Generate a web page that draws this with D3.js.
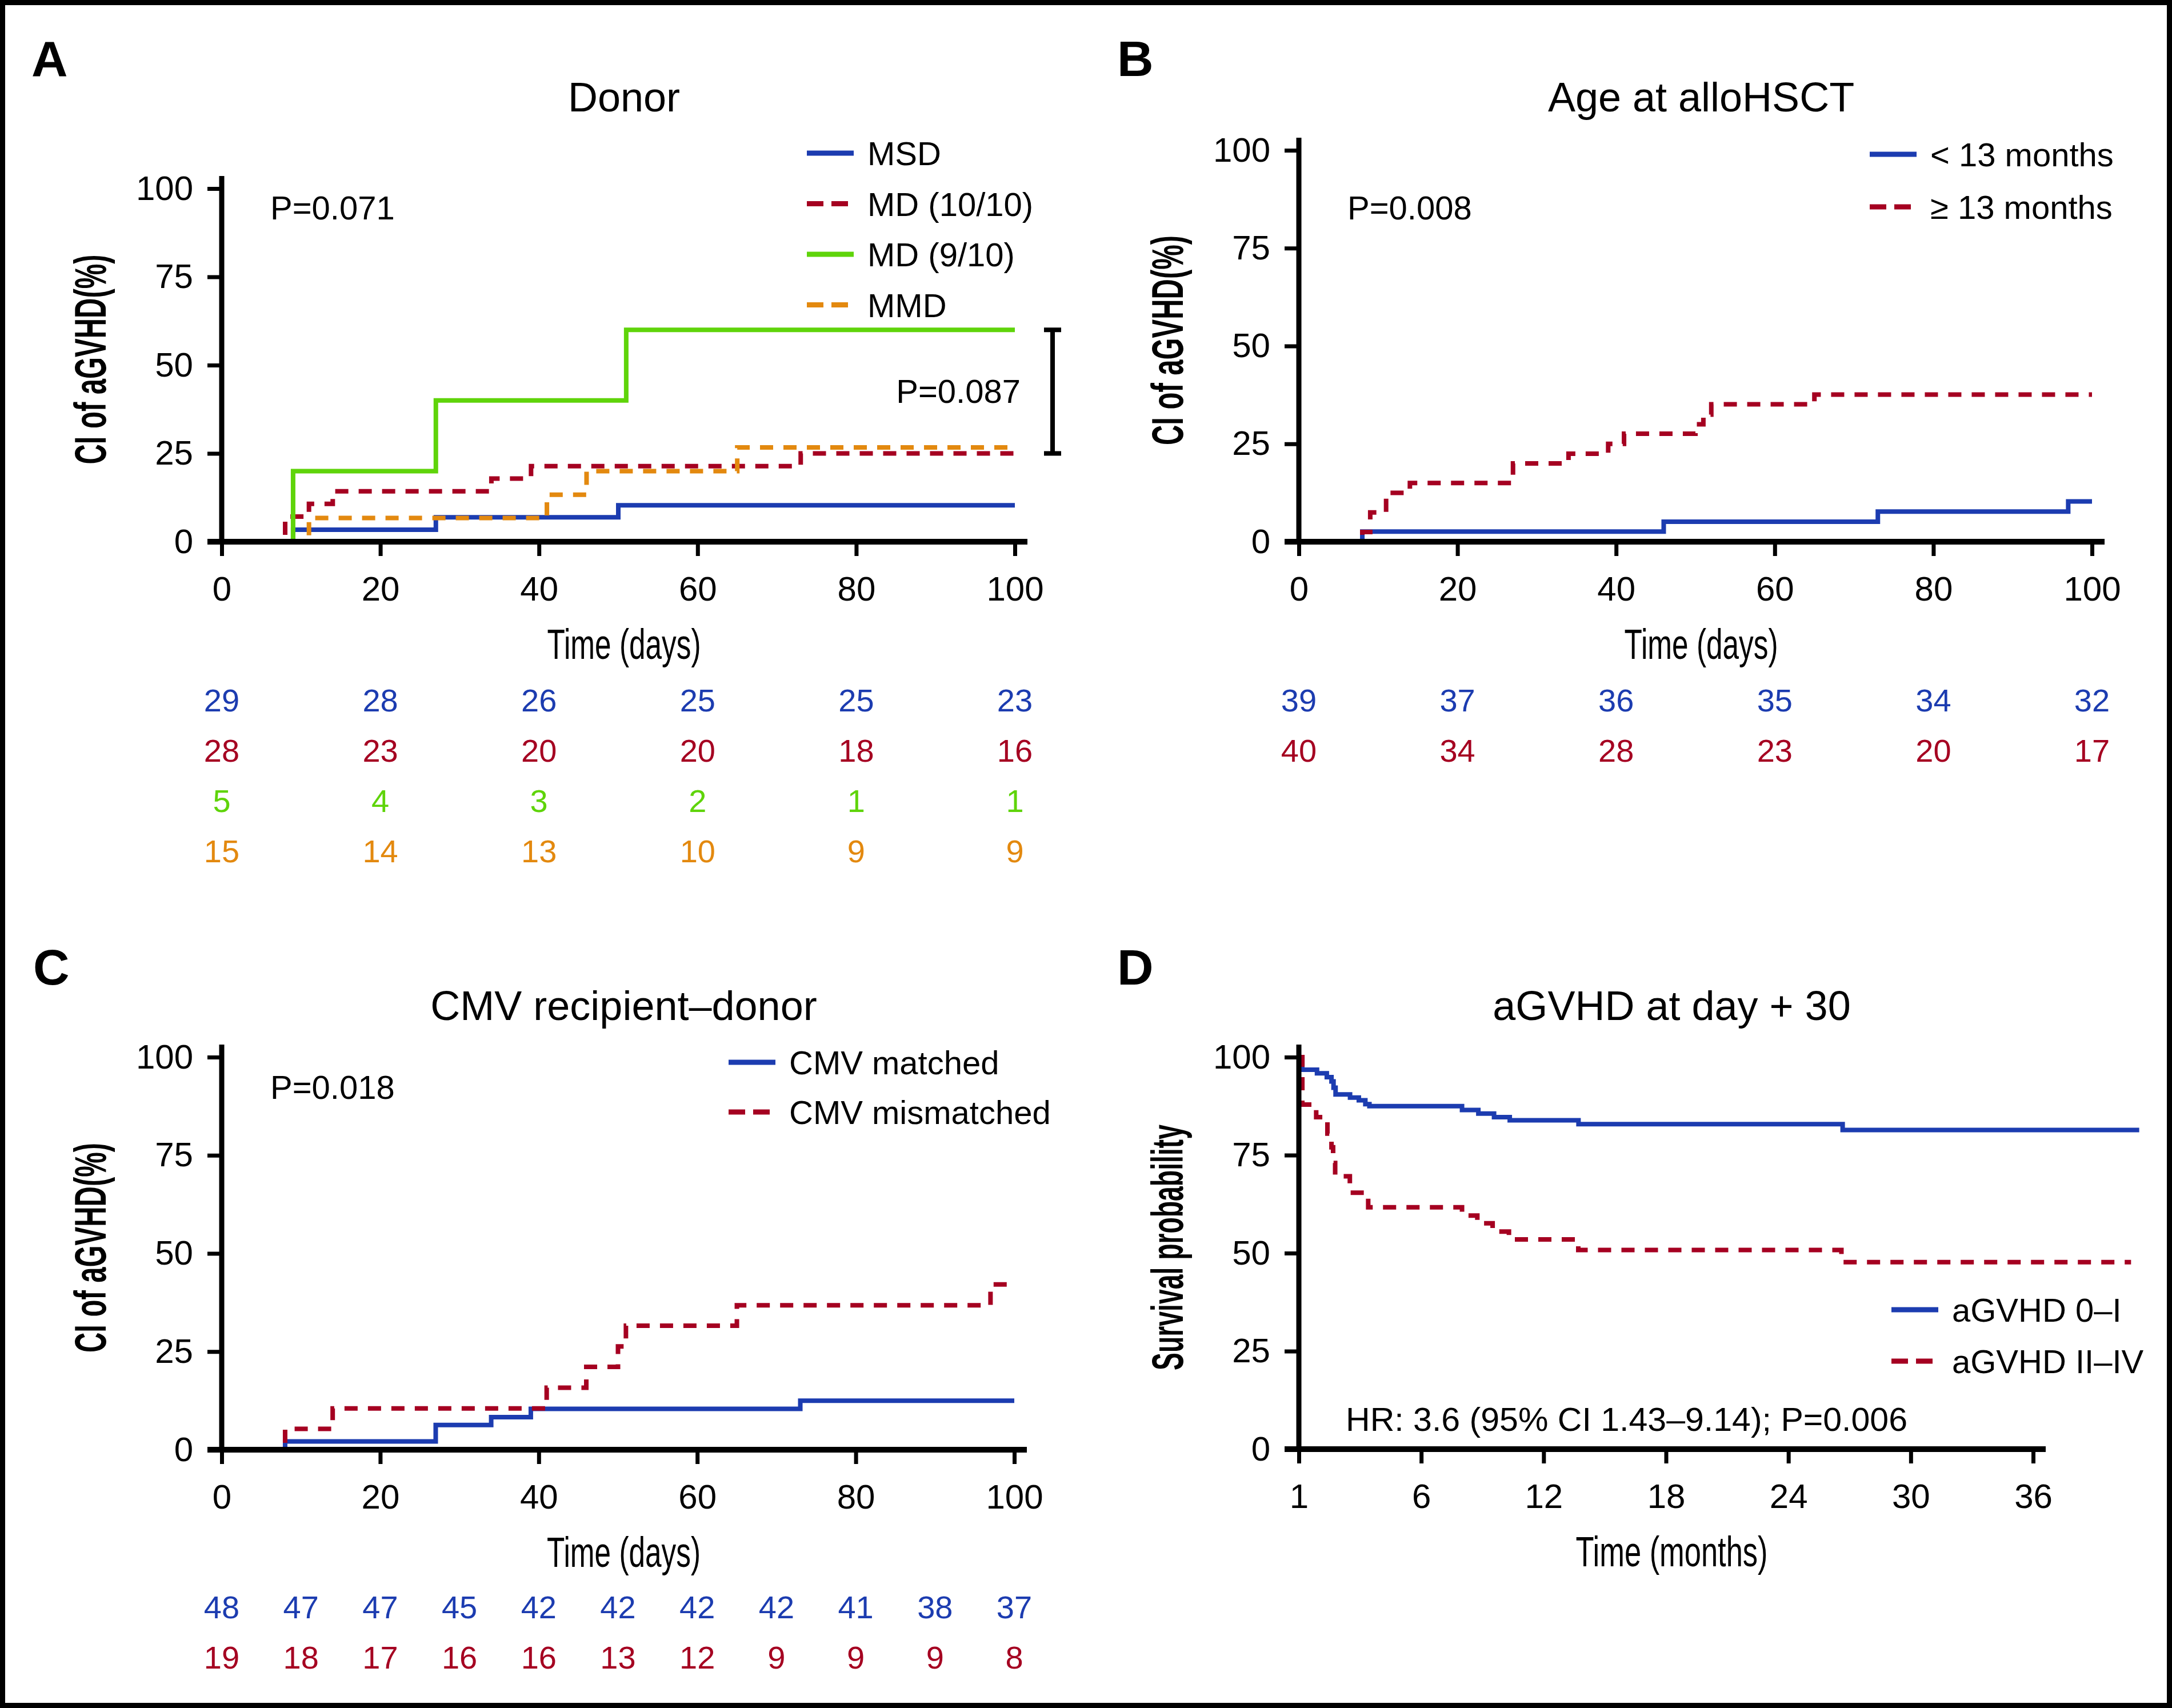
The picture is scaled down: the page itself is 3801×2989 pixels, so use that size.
<!DOCTYPE html>
<html><head><meta charset="utf-8">
<script src="https://cdn.jsdelivr.net/npm/d3@7"></script>
<style>body{margin:0;background:#fff}svg{display:block}</style>
</head><body>
<svg id="chart" width="3801" height="2989"></svg>
<script>
// ---------------- DATA ----------------
// Panel A: Donor (days, CI %)
const aTitle = "Donor";
const aLabels = ["MSD", "MD (10/10)", "MD (9/10)", "MMD"];
const aMSD_t = [0, 9, 27, 50, 100];
const aMSD_v = [0, 3.4, 6.9, 10.3, 10.3];
const aMD10_t = [0, 8, 11, 14, 34, 39, 73, 100];
const aMD10_v = [0, 7.1, 10.7, 14.3, 17.9, 21.4, 25.0, 25.0];
const aMD9_t = [0, 9, 27, 51, 100];
const aMD9_v = [0, 20, 40, 60, 60];
const aMMD_t = [0, 11, 41, 46, 65, 100];
const aMMD_v = [0, 6.7, 13.3, 20.0, 26.7, 26.7];
const aRiskMSD = [29, 28, 26, 25, 25, 23];
const aRiskMD10 = [28, 23, 20, 20, 18, 16];
const aRiskMD9 = [5, 4, 3, 2, 1, 1];
const aRiskMMD = [15, 14, 13, 10, 9, 9];
const aP = "P=0.071";
const aBracketP = "P=0.087";
const aBracket = [25, 60];

// Panel B: Age at alloHSCT
const bTitle = "Age at alloHSCT";
const bLabels = ["< 13 months", "\u2265 13 months"];
const bLow_t = [0, 8, 46, 73, 97, 100];
const bLow_v = [0, 2.6, 5.1, 7.7, 10.3, 10.3];
const bHigh_t = [0, 8, 9, 11, 14, 27, 34, 39, 41, 50, 51, 52, 65, 100];
const bHigh_v = [0, 2.5, 7.5, 12.5, 15.0, 20.0, 22.5, 25.0, 27.6, 30.0, 32.5, 35.1, 37.6, 37.6];
const bRiskLow = [39, 37, 36, 35, 34, 32];
const bRiskHigh = [40, 34, 28, 23, 20, 17];
const bP = "P=0.008";

// Panel C: CMV recipient-donor
const cTitle = "CMV recipient\u2013donor";
const cLabels = ["CMV matched", "CMV mismatched"];
const cMatch_t = [0, 8, 27, 34, 39, 73, 100];
const cMatch_v = [0, 2.1, 6.3, 8.3, 10.4, 12.5, 12.5];
const cMis_t = [0, 8, 14, 41, 46, 50, 51, 65, 97, 100];
const cMis_v = [0, 5.3, 10.5, 15.8, 21.1, 26.3, 31.6, 36.8, 42.1, 42.1];
const cRiskMatch = [48, 47, 47, 45, 42, 42, 42, 42, 41, 38, 37];
const cRiskMis = [19, 18, 17, 16, 16, 13, 12, 9, 9, 9, 8];
const cP = "P=0.018";

// Panel D: aGVHD at day +30 (months, survival %)
const dTitle = "aGVHD at day + 30";
const dLabels = ["aGVHD 0\u2013I", "aGVHD II\u2013IV"];
const dLow_t = [0, 0.17, 0.89, 1.37, 1.6, 1.7, 1.8, 2.51, 2.94, 3.26, 3.46, 8.0, 8.8, 9.57, 10.34, 13.71, 26.66, 41.2];
const dLow_v = [100, 96.8, 95.9, 94.9, 93.8, 92.2, 90.5, 89.7, 89.0, 88.0, 87.5, 86.5, 85.6, 84.7, 83.9, 82.9, 81.4, 81.4];
const dHigh_t = [0, 0.17, 0.85, 1.4, 1.6, 1.68, 1.78, 2.5, 3.4, 8.0, 8.75, 9.5, 10.3, 13.7, 26.6, 40.8];
const dHigh_v = [100, 87.9, 84.7, 80.5, 77.0, 73.0, 69.6, 65.4, 61.7, 59.6, 57.6, 55.5, 53.5, 50.8, 47.7, 47.7];
const dHR = "HR: 3.6 (95% CI 1.43\u20139.14); P=0.006";
const dTickVals = [0, 6, 12, 18, 24, 30, 36];
const dTickLabels = ["1", "6", "12", "18", "24", "30", "36"];

const dayTicks = [0, 20, 40, 60, 80, 100];
const dayTicks10 = [0, 10, 20, 30, 40, 50, 60, 70, 80, 90, 100];
const yTicks = [0, 25, 50, 75, 100];

// ---------------- STYLE ----------------
const BLUE = "#1c3cb0", RED = "#a50021", GREEN = "#5fd40a", ORANGE = "#e3890f";
const FONT = "'Liberation Sans', Arial, Helvetica, sans-serif";

const svg = d3.select("#chart");
svg.append("rect").attr("x", 4.5).attr("y", 4.5).attr("width", 3792).attr("height", 2980)
  .attr("fill", "#fff").attr("stroke", "#000").attr("stroke-width", 9);

function txt(g, x, y, s, o = {}) {
  const t = g.append("text").attr("x", x).attr("y", y).text(s)
    .attr("font-family", FONT).attr("font-size", o.size || 58)
    .attr("fill", o.fill || "#000").attr("text-anchor", o.anchor || "start")
    .attr("font-weight", o.weight || "normal");
  if (o.len) t.attr("textLength", o.len).attr("lengthAdjust", "spacingAndGlyphs");
  return t;
}

function panel(cfg) {
  const g = svg.append("g");
  const x = d3.scaleLinear().domain(cfg.xDomain).range(cfg.xRange);
  const y = d3.scaleLinear().domain([0, 100]).range(cfg.yRange);
  const x0 = cfg.xRange[0], y0 = cfg.yRange[0];
  const line = d3.line().x(d => x(d.t)).y(d => y(d.v)).curve(d3.curveStepAfter);

  // curves
  cfg.series.forEach(s => {
    const pts = s.t.map((t, i) => ({ t: t, v: s.v[i] }));
    g.append("path").attr("d", line(pts)).attr("fill", "none")
      .attr("stroke", s.color).attr("stroke-width", 8)
      .attr("stroke-dasharray", s.dash ? "23,18" : null);
  });

  // y axis
  const gy = g.append("g").attr("transform", `translate(${x0},0)`)
    .call(d3.axisLeft(y).tickValues(yTicks).tickSize(25).tickPadding(25).tickSizeOuter(0));
  gy.select(".domain").remove();
  gy.selectAll(".tick line").attr("stroke", "#000").attr("stroke-width", 7);
  gy.selectAll(".tick text").attr("font-size", 60).attr("font-family", FONT).attr("fill", "#000");

  // x axis
  const xa = d3.axisBottom(x).tickValues(cfg.xTicks).tickSize(25).tickPadding(35).tickSizeOuter(0);
  if (cfg.xTickLabels) xa.tickFormat((d, i) => cfg.xTickLabels[i]);
  const gx = g.append("g").attr("transform", `translate(0,${y0})`).call(xa);
  gx.select(".domain").remove();
  gx.selectAll(".tick line").attr("stroke", "#000").attr("stroke-width", 7);
  gx.selectAll(".tick text").attr("font-size", 60).attr("font-family", FONT).attr("fill", "#000");

  // axis lines
  g.append("line").attr("x1", x0).attr("x2", x0).attr("y1", y0).attr("y2", cfg.yRange[1] - 22)
    .attr("stroke", "#000").attr("stroke-width", 9);
  g.append("line").attr("x1", x0 - 25).attr("x2", cfg.xRange[1] + 22).attr("y1", y0).attr("y2", y0)
    .attr("stroke", "#000").attr("stroke-width", 10);

  const cx = (cfg.xRange[0] + cfg.xRange[1]) / 2 + 10;
  const cy = (cfg.yRange[0] + cfg.yRange[1]) / 2 - 10;
  // titles
  txt(g, cx, cfg.titleY, cfg.title, { size: 72, anchor: "middle" });
  txt(g, cfg.letterX, cfg.titleY - 62, cfg.letter, { size: 88, weight: "bold" });
  txt(g, cx, y0 + 205, cfg.xTitle, { size: 74, anchor: "middle", len: cfg.xTitleLen });
  g.append("text").attr("transform", `translate(${x0 - 203},${cy}) rotate(-90)`)
    .attr("font-family", FONT).attr("font-size", 78).attr("font-weight", "bold")
    .attr("text-anchor", "middle").attr("textLength", cfg.yTitleLen)
    .attr("lengthAdjust", "spacingAndGlyphs").text(cfg.yTitle);

  // legend
  cfg.series.forEach((s, i) => {
    const ly = cfg.legend.y + i * cfg.legend.dy;
    g.append("line").attr("x1", cfg.legend.x).attr("x2", cfg.legend.x + 82)
      .attr("y1", ly).attr("y2", ly).attr("stroke", s.color).attr("stroke-width", 9)
      .attr("stroke-dasharray", s.dash ? "29,14" : null);
    txt(g, cfg.legend.x + 106, ly + 21, s.label, { size: 58 });
  });

  // at-risk table
  if (cfg.risk) {
    cfg.risk.forEach((r, i) => {
      r.values.forEach((v, j) => {
        txt(g, x(cfg.riskTicks[j]), cfg.riskY + i * 88, v, { size: 56, fill: r.color, anchor: "middle" });
      });
    });
  }
  return { g, x, y };
}

// Panel A
const pA = panel({
  letter: "A", letterX: 55, title: aTitle, titleY: 195,
  xDomain: [0, 100], xRange: [388, 1776], yRange: [948, 330], xTicks: dayTicks,
  xTitle: "Time (days)", xTitleLen: 269, yTitle: "CI of aGVHD(%)", yTitleLen: 367,
  series: [
    { t: aMSD_t, v: aMSD_v, color: BLUE, label: aLabels[0] },
    { t: aMD10_t, v: aMD10_v, color: RED, dash: true, label: aLabels[1] },
    { t: aMD9_t, v: aMD9_v, color: GREEN, label: aLabels[2] },
    { t: aMMD_t, v: aMMD_v, color: ORANGE, dash: true, label: aLabels[3] }
  ],
  legend: { x: 1412, y: 268, dy: 88.5 },
  risk: [
    { values: aRiskMSD, color: BLUE }, { values: aRiskMD10, color: RED },
    { values: aRiskMD9, color: GREEN }, { values: aRiskMMD, color: ORANGE }
  ],
  riskTicks: dayTicks, riskY: 1245
});
txt(pA.g, 473, 384, aP, { size: 58 });
// bracket
{
  const bx = 1842, yt = pA.y(aBracket[1]), yb = pA.y(aBracket[0]);
  pA.g.append("path").attr("d", `M${bx},${yt}V${yb}M${bx - 15},${yt}H${bx + 15}M${bx - 15},${yb}H${bx + 15}`)
    .attr("stroke", "#000").attr("stroke-width", 8).attr("fill", "none");
  txt(pA.g, 1786, 705, aBracketP, { size: 58, anchor: "end" });
}

// Panel B
const pB = panel({
  letter: "B", letterX: 1955, title: bTitle, titleY: 195,
  xDomain: [0, 100], xRange: [2273, 3661], yRange: [948, 263], xTicks: dayTicks,
  xTitle: "Time (days)", xTitleLen: 269, yTitle: "CI of aGVHD(%)", yTitleLen: 367,
  series: [
    { t: bLow_t, v: bLow_v, color: BLUE, label: bLabels[0] },
    { t: bHigh_t, v: bHigh_v, color: RED, dash: true, label: bLabels[1] }
  ],
  legend: { x: 3272, y: 270, dy: 92 },
  risk: [{ values: bRiskLow, color: BLUE }, { values: bRiskHigh, color: RED }],
  riskTicks: dayTicks, riskY: 1245
});
txt(pB.g, 2358, 384, bP, { size: 58 });

// Panel C
const pC = panel({
  letter: "C", letterX: 58, title: cTitle, titleY: 1785,
  xDomain: [0, 100], xRange: [388, 1775], yRange: [2537, 1850], xTicks: dayTicks,
  xTitle: "Time (days)", xTitleLen: 269, yTitle: "CI of aGVHD(%)", yTitleLen: 367,
  series: [
    { t: cMatch_t, v: cMatch_v, color: BLUE, label: cLabels[0] },
    { t: cMis_t, v: cMis_v, color: RED, dash: true, label: cLabels[1] }
  ],
  legend: { x: 1275, y: 1859, dy: 87 },
  risk: [{ values: cRiskMatch, color: BLUE }, { values: cRiskMis, color: RED }],
  riskTicks: dayTicks10, riskY: 2832
});
txt(pC.g, 473, 1923, cP, { size: 58 });

// Panel D
const pD = panel({
  letter: "D", letterX: 1955, title: dTitle, titleY: 1785,
  xDomain: [0, 36], xRange: [2273, 3558], yRange: [2536, 1850], xTicks: dTickVals, xTickLabels: dTickLabels,
  xTitle: "Time (months)", xTitleLen: 336, yTitle: "Survival probability", yTitleLen: 430,
  series: [
    { t: dLow_t, v: dLow_v, color: BLUE, label: dLabels[0] },
    { t: dHigh_t, v: dHigh_v, color: RED, dash: true, label: dLabels[1] }
  ],
  legend: { x: 3310, y: 2292, dy: 90 }
});
txt(pD.g, 2355, 2504, dHR, { size: 58, len: 983 });
</script>
</body></html>
